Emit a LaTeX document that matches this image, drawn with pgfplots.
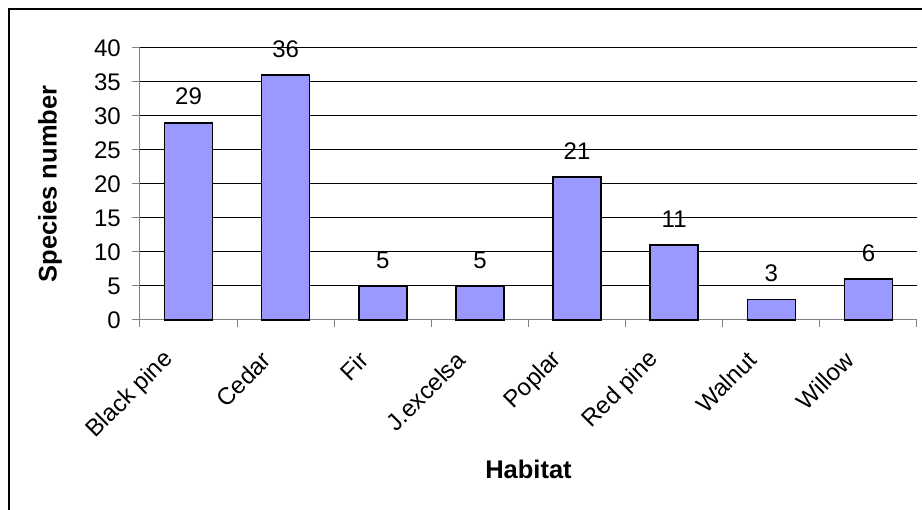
\documentclass[border=0pt]{standalone}
\usepackage{fontspec}
\setmainfont{Liberation Sans}
\usepackage{pgfplots}
\pgfplotsset{compat=1.18}
\definecolor{barblue}{RGB}{153,153,255}
\definecolor{axgray}{RGB}{128,128,128}

\begin{document}
\begin{tikzpicture}
\useasboundingbox (0,0) rectangle (922pt,510pt);
% chart area frame (right and bottom edges fall outside the picture)
\draw[line width=2pt] (9pt,0pt) -- (9pt,501pt) -- (922pt,501pt);
\begin{axis}[at={(140pt,190pt)}, anchor=south west,
    width=777pt, height=272pt, scale only axis,
    xmin=-0.5, xmax=7.5, ymin=0, ymax=40,
    axis x line*=bottom, axis y line*=left,
    axis line style={axgray, line width=1pt, -},
    ybar, bar width=48pt,
    ytick={0,5,...,40},
    xtick={0,...,7},
    xticklabels={Black pine,Cedar,Fir,J.excelsa,Poplar,Red pine,Walnut,Willow},
    minor xtick={-0.5,0.5,...,7.5},
    tick align=outside, major tick length=8pt, minor tick length=7pt,
    major x tick style={draw=none},
    tick style={axgray, line width=1pt},
    ymajorgrids, grid style={black, line width=1pt},
    /pgf/number format/assume math mode=true,
    ticklabel style={font=\fontsize{24}{28}\selectfont},
    yticklabel style={inner sep=0pt, xshift=-11pt},
    xticklabel style={inner sep=0pt, xshift=-19pt, yshift=-28pt, rotate=45, anchor=east},
    ylabel={\textbf{Species number}},
    ylabel style={at={(axis description cs:-0.1158,0.5)}, anchor=center,
                  font=\fontsize{25.5}{30}\selectfont},
    xlabel={\textbf{Habitat}},
    xlabel style={at={(axis description cs:0.5,-0.551)}, anchor=center,
                  font=\fontsize{25.5}{30}\selectfont},
    nodes near coords,
    every node near coord/.append style={font=\fontsize{24}{28}\selectfont,
                  anchor=south, inner sep=0pt, yshift=17pt, black},
    clip=false]
\addplot[fill=barblue, draw=black, line width=1.5pt]
    coordinates {(0,29) (1,36) (2,5) (3,5) (4,21) (5,11) (6,3) (7,6)};
\end{axis}
\end{tikzpicture}
\end{document}
